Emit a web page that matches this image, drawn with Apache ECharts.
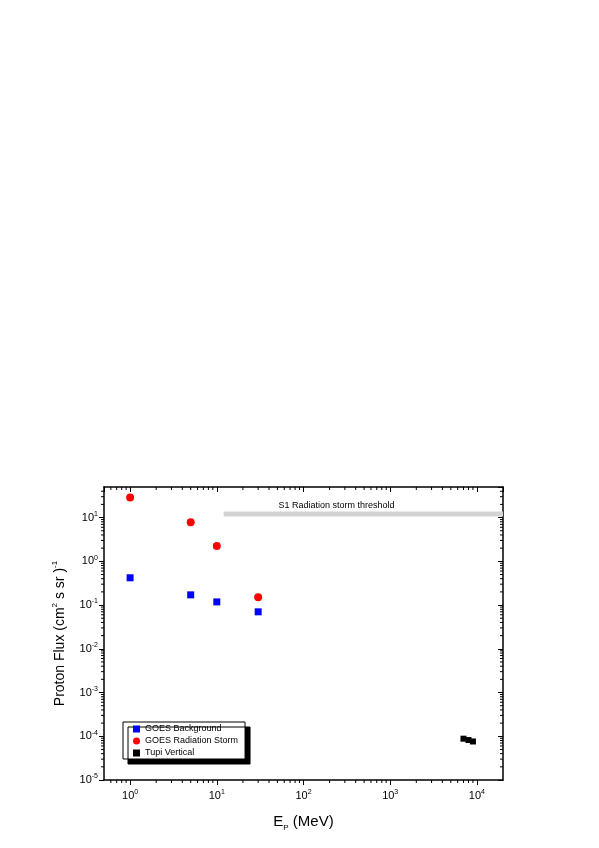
<!DOCTYPE html>
<html style="height: 100%" lang="en">
<head>
    <meta charset="UTF-8">
    <title>Proton Flux</title>
</head>
<body style="height: 100%; margin: 0; background: #fff">
<div id="main" style="width: 599px; height: 848px"></div>

<script src="https://cdn.jsdelivr.net/npm/echarts@6/dist/echarts.min.js"></script>
<script type="text/javascript">

    // energies (MeV) and fluxes
    var goesEnergy = [1, 5, 10, 30];
    var goesBackground = [0.42, 0.171, 0.118, 0.07];
    var goesStorm = [28.8, 7.8, 2.24, 0.151];
    var tupiEnergy = [7000, 8000, 9000];
    var tupiFlux = [8.8e-5, 8.2e-5, 7.6e-5];

    // S1 threshold band
    var thresholdEnergy = [12, 20000];
    var thresholdFlux = 12;
    var thresholdText = 'S1 Radiation storm threshold';

    // axis ranges and minor tick positions
    var xMin = 0.5, xMax = 20000;
    var yMin = 1e-5, yMax = 50;
    var minorMult = [2, 3, 4, 5, 6, 7, 8, 9];
    var xDecades = [0.1, 1, 10, 100, 1000, 10000];
    var yDecades = [1e-5, 1e-4, 1e-3, 1e-2, 1e-1, 1, 10];

    var font = 'Liberation Sans, Arial, sans-serif';

    function minorList(decades, lo, hi) {
        var out = [];
        decades.forEach(function (d) {
            minorMult.forEach(function (m) {
                var v = d * m;
                if (v > lo * 1.0001 && v < hi * 0.9999) out.push(v);
            });
        });
        return out;
    }
    var xMinor = minorList(xDecades, xMin, xMax);
    var yMinor = minorList(yDecades, yMin, yMax);

    function powLabel(v) {
        var e = Math.log10(v);
        var r = Math.round(e);
        if (Math.abs(e - r) > 1e-6) return '';
        return '{b|10}{s|' + r + '}';
    }

    var labelRich = {
        b: {fontSize: 11, fontFamily: font, color: '#000', lineHeight: 14},
        s: {fontSize: 7, fontFamily: font, color: '#000', verticalAlign: 'top', lineHeight: 14}
    };

    var tickData = [];
    xMinor.forEach(function (v) { tickData.push(['x', v]); });
    yMinor.forEach(function (v) { tickData.push(['y', v]); });

    var chart = echarts.init(document.getElementById('main'));

    var option = {
        backgroundColor: '#fff',
        animation: false,
        grid: {left: 104, right: 96, top: 487, bottom: 68},
        legend: {
            orient: 'vertical',
            left: 123,
            top: 722,
            padding: [1, 7, 0, 10],
            itemGap: 0,
            itemWidth: 7,
            itemHeight: 7,
            backgroundColor: '#fff',
            borderColor: '#000',
            borderWidth: 1,
            shadowColor: '#000',
            shadowBlur: 0,
            shadowOffsetX: 5,
            shadowOffsetY: 5,
            textStyle: {fontSize: 9, fontFamily: font, color: '#000', lineHeight: 12},
            data: [
                {name: 'GOES Background', icon: 'rect'},
                {name: 'GOES Radiation Storm', icon: 'circle'},
                {name: 'Tupi Vertical', icon: 'rect'}
            ]
        },
        xAxis: [{
            type: 'log',
            logBase: 10,
            min: xMin,
            max: xMax,
            position: 'bottom',
            name: '{t|E}{sub|P}{t| (MeV)}',
            nameLocation: 'middle',
            nameGap: 32,
            nameTextStyle: {
                rich: {
                    t: {fontSize: 15, fontFamily: font, color: '#000', lineHeight: 20},
                    sub: {fontSize: 8, fontFamily: font, color: '#000', verticalAlign: 'bottom', lineHeight: 16}
                }
            },
            axisLine: {lineStyle: {color: '#000', width: 1.5}},
            axisTick: {inside: false, length: 5, lineStyle: {color: '#000', width: 1}},
            axisLabel: {formatter: powLabel, rich: labelRich, margin: 9, showMinLabel: false, showMaxLabel: false},
            splitLine: {show: false}
        }, {
            type: 'log',
            logBase: 10,
            min: xMin,
            max: xMax,
            position: 'top',
            axisLine: {lineStyle: {color: '#000', width: 1.5}},
            axisTick: {inside: true, length: 5, lineStyle: {color: '#000', width: 1}},
            axisLabel: {show: false},
            splitLine: {show: false}
        }],
        yAxis: [{
            type: 'log',
            logBase: 10,
            min: yMin,
            max: yMax,
            position: 'left',
            name: '{t|Proton Flux (cm}{s|2}{t| s sr )}{s|-1}',
            nameLocation: 'middle',
            nameRotate: 90,
            nameGap: 35,
            nameTextStyle: {
                rich: {
                    t: {fontSize: 14, fontFamily: font, color: '#000', lineHeight: 18},
                    s: {fontSize: 8, fontFamily: font, color: '#000', verticalAlign: 'top', lineHeight: 18}
                }
            },
            axisLine: {lineStyle: {color: '#000', width: 1.5}},
            axisTick: {inside: false, length: 5, lineStyle: {color: '#000', width: 1}},
            axisLabel: {formatter: powLabel, rich: labelRich, margin: 6, showMaxLabel: false},
            splitLine: {show: false}
        }, {
            type: 'log',
            logBase: 10,
            min: yMin,
            max: yMax,
            position: 'right',
            axisLine: {lineStyle: {color: '#000', width: 1.5}},
            axisTick: {inside: true, length: 5, lineStyle: {color: '#000', width: 1}},
            axisLabel: {show: false},
            splitLine: {show: false}
        }],
        series: [
            {
                name: 'threshold',
                type: 'line',
                data: thresholdEnergy.map(function (e) { return [e, thresholdFlux]; }),
                symbol: 'none',
                lineStyle: {color: '#d3d3d3', width: 5},
                silent: true,
                z: 1,
                markPoint: {
                    symbol: 'circle',
                    symbolSize: 0,
                    silent: true,
                    data: [{coord: [240, thresholdFlux]}],
                    label: {
                        show: true,
                        position: 'inside',
                        formatter: thresholdText,
                        fontSize: 9,
                        fontFamily: font,
                        color: '#000',
                        offset: [0, -9]
                    }
                }
            },
            {
                name: 'GOES Background',
                type: 'scatter',
                symbol: 'rect',
                symbolSize: 7,
                itemStyle: {color: '#0000ff', opacity: 1},
                data: goesEnergy.map(function (e, i) { return [e, goesBackground[i]]; }),
                z: 3
            },
            {
                name: 'GOES Radiation Storm',
                type: 'scatter',
                symbol: 'circle',
                symbolSize: 8,
                itemStyle: {color: '#ff0000', opacity: 1},
                data: goesEnergy.map(function (e, i) { return [e, goesStorm[i]]; }),
                z: 3
            },
            {
                name: 'Tupi Vertical',
                type: 'scatter',
                symbol: 'rect',
                symbolSize: 6,
                itemStyle: {color: '#000', opacity: 1},
                data: tupiEnergy.map(function (e, i) { return [e, tupiFlux[i]]; }),
                z: 3
            },
            {
                // minor ticks on all four sides
                name: 'minorTicks',
                type: 'custom',
                silent: true,
                clip: false,
                data: tickData,
                encode: {x: -1, y: -1},
                renderItem: function (params, api) {
                    var kind = tickData[params.dataIndex][0];
                    var v = tickData[params.dataIndex][1];
                    var len = 3, a, b;
                    if (kind === 'x') {
                        a = api.coord([v, yMin]);
                        b = api.coord([v, yMax]);
                        return {type: 'group', children: [
                            {type: 'line', shape: {x1: a[0], y1: a[1], x2: a[0], y2: a[1] + len}, style: {stroke: '#000', lineWidth: 1}},
                            {type: 'line', shape: {x1: b[0], y1: b[1], x2: b[0], y2: b[1] + len}, style: {stroke: '#000', lineWidth: 1}}
                        ]};
                    }
                    a = api.coord([xMin, v]);
                    b = api.coord([xMax, v]);
                    return {type: 'group', children: [
                        {type: 'line', shape: {x1: a[0], y1: a[1], x2: a[0] - len, y2: a[1]}, style: {stroke: '#000', lineWidth: 1}},
                        {type: 'line', shape: {x1: b[0], y1: b[1], x2: b[0] - len, y2: b[1]}, style: {stroke: '#000', lineWidth: 1}}
                    ]};
                }
            }
        ]
    };

    chart.setOption(option);

</script>
</body>
</html>
